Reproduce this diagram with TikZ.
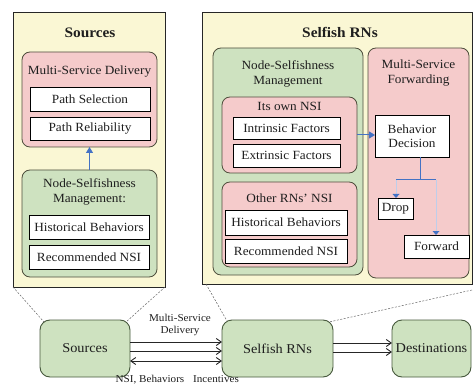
\documentclass[tikz,border=0pt]{standalone}
\usepackage{fontspec}
\setmainfont{Liberation Serif}[FakeStretch=1.06]
\usetikzlibrary{arrows.meta}
\definecolor{panelbg}{RGB}{250,247,212}
\definecolor{grn}{RGB}{206,226,192}
\definecolor{pnk}{RGB}{245,203,203}
\definecolor{olive}{RGB}{78,78,60}
\definecolor{dgreen}{RGB}{70,88,60}
\definecolor{arrblue}{RGB}{68,114,196}
\definecolor{txt}{RGB}{30,30,30}
\begin{document}
\begin{tikzpicture}[x=1pt,y=-1pt,
  every node/.style={inner sep=0pt,outer sep=0pt,text=txt},
  panel/.style={draw=black!85,line width=0.8pt,fill=panelbg},
  gbox/.style={draw=olive,line width=0.8pt,fill=grn,rounded corners=8pt},
  pbox/.style={draw=olive,line width=0.8pt,fill=pnk,rounded corners=8pt},
  wbox/.style={draw=black,line width=0.8pt,fill=white,font=\fontsize{12.5}{14}\selectfont,align=center},
  lbl/.style={font=\fontsize{12.5}{15}\selectfont,align=center},
  ttl/.style={font=\fontsize{14.5}{16}\selectfont\bfseries},
  bnode/.style={draw=dgreen,line width=0.9pt,fill=grn,rounded corners=10pt,font=\fontsize{13.5}{16}\selectfont},
  blarrow/.style={draw=arrblue,line width=1pt,-{Triangle[length=6pt,width=7pt]}},
  blline/.style={draw=arrblue,line width=1pt},
  blthin/.style={draw=arrblue!35,line width=0.2pt,-{Triangle[length=4pt,width=7pt,line width=0pt,fill=arrblue,color=arrblue]}},
  flow/.style={draw=black!85,line width=0.9pt,-{Straight Barb[length=5pt,width=7pt]}},
  flow2/.style={draw=black!85,line width=0.9pt,{Straight Barb[length=5pt,width=7pt]}-{Straight Barb[length=5pt,width=7pt]}},
  dsh/.style={draw=black!60,line width=0.5pt,dash pattern=on 2pt off 1.5pt},
  small/.style={font=\fontsize{10.5}{12.5}\selectfont,align=center}
]
\useasboundingbox (0,0) rectangle (473,387);

% ---- Sources panel ----
\node[panel,minimum width=152pt,minimum height=275pt] (srcpanel) at (89,149.5) {};
\node[ttl] (srctitle) at (90,33) {Sources};
\node[pbox,minimum width=135pt,minimum height=95pt] (msd) at (89.5,99.5) {};
\node[lbl] (msdlbl) at (89.5,72) {Multi-Service Delivery};
\node[wbox,minimum width=120pt,minimum height=24pt] (ps) at (90,99) {Path Selection};
\node[wbox,minimum width=120pt,minimum height=23pt] (pr) at (90,128.5) {Path Reliability};
\node[gbox,minimum width=135pt,minimum height=107pt] (nsm1) at (89.5,223.5) {};
\node[lbl] (nsm1lbl) at (89.5,191.5) {Node-Selfishness\\Management:};
\node[wbox,minimum width=120pt,minimum height=24pt] (hb1) at (89,227) {Historical Behaviors};
\node[wbox,minimum width=120pt,minimum height=24pt] (rn1) at (89,257) {Recommended NSI};
\draw[blarrow] (nsm1.north) -- (msd.south);

% ---- Selfish RNs panel ----
\node[panel,minimum width=270pt,minimum height=272pt] (rnpanel) at (337,148) {};
\node[ttl] (rntitle) at (340,32) {Selfish RNs};
\node[gbox,minimum width=150pt,minimum height=227pt] (nsm2) at (288,161.5) {};
\node[lbl] (nsm2lbl) at (288,73.5) {Node-Selfishness\\Management};
\node[pbox,minimum width=135pt,minimum height=76pt] (own) at (289.5,135) {};
\node[lbl] (ownlbl) at (289.5,106) {Its own NSI};
\node[wbox,minimum width=107pt,minimum height=22pt] (intr) at (286.5,128) {Intrinsic Factors};
\node[wbox,minimum width=107pt,minimum height=23pt] (extr) at (286.5,155.5) {Extrinsic Factors};
\node[pbox,minimum width=135pt,minimum height=85pt] (other) at (289.5,224.5) {};
\node[lbl] (otherlbl) at (289.5,198) {Other RNs’ NSI};
\node[wbox,minimum width=122pt,minimum height=25pt] (hb2) at (286,222.5) {Historical Behaviors};
\node[wbox,minimum width=122pt,minimum height=24pt] (rn2) at (286,251) {Recommended NSI};
\node[pbox,minimum width=101pt,minimum height=230pt] (msf) at (418.5,163) {};
\node[lbl] (msflbl) at (418.5,73.5) {Multi-Service\\Forwarding};
\node[wbox,minimum width=74pt,minimum height=42pt] (bd) at (412,136) {Behavior\\Decision};
\node[wbox,minimum width=35pt,minimum height=21pt] (drop) at (395.5,208.5) {Drop};
\node[wbox,minimum width=65pt,minimum height=23pt] (fwd) at (436.5,246.5) {Forward};
\draw[blarrow] (own.east |- 0,135) -- (bd.west |- 0,135);
\coordinate (barmid) at (420,180);
\coordinate (barL) at (396,180);
\coordinate (barR) at (436,180);
\draw[blline] (bd.south -| barmid) -- (barmid);
\draw[blline] (barL) -- (barR);
\draw[blthin] (barL) -- (barL |- drop.north);
\draw[blthin] (barR) -- (barR |- fwd.north);

% ---- bottom row ----
\node[bnode,minimum width=90pt,minimum height=57pt] (src) at (85,348.5) {Sources};
\node[bnode,minimum width=111pt,minimum height=57pt] (rns) at (277.5,348.5) {Selfish RNs};
\node[bnode,minimum width=79pt,minimum height=57pt] (dst) at (431.5,348.5) {Destinations};

\draw[flow] (src.east |- 0,342) -- (rns.west |- 0,342);
\draw[flow] (src.east |- 0,351) -- (rns.west |- 0,351);
\draw[flow2] (src.east |- 0,361) -- (rns.west |- 0,361);
\draw[flow] (rns.east |- 0,343) -- (dst.west |- 0,343);
\draw[flow] (rns.east |- 0,352) -- (dst.west |- 0,352);

\node[small] (msdl) at (180,325) {Multi-Service\\Delivery};
\node[small,anchor=base] (nsil) at (150,382) {NSI, Behaviors};
\node[small,anchor=base] (incl) at (216,382) {Incentives};

% ---- dashed zoom lines ----
\draw[dsh] (srcpanel.south west) -- ([xshift=4pt,yshift=-2pt]src.north west);
\draw[dsh] (srcpanel.south east) -- ([xshift=-4pt,yshift=-2pt]src.north east);
\draw[dsh] ([xshift=4pt]rnpanel.south west) -- ([xshift=5pt,yshift=-1pt]rns.north west);
\draw[dsh] ([yshift=-6pt]rnpanel.south east) -- ([xshift=-4pt,yshift=-2pt]rns.north east);
\end{tikzpicture}
\end{document}
